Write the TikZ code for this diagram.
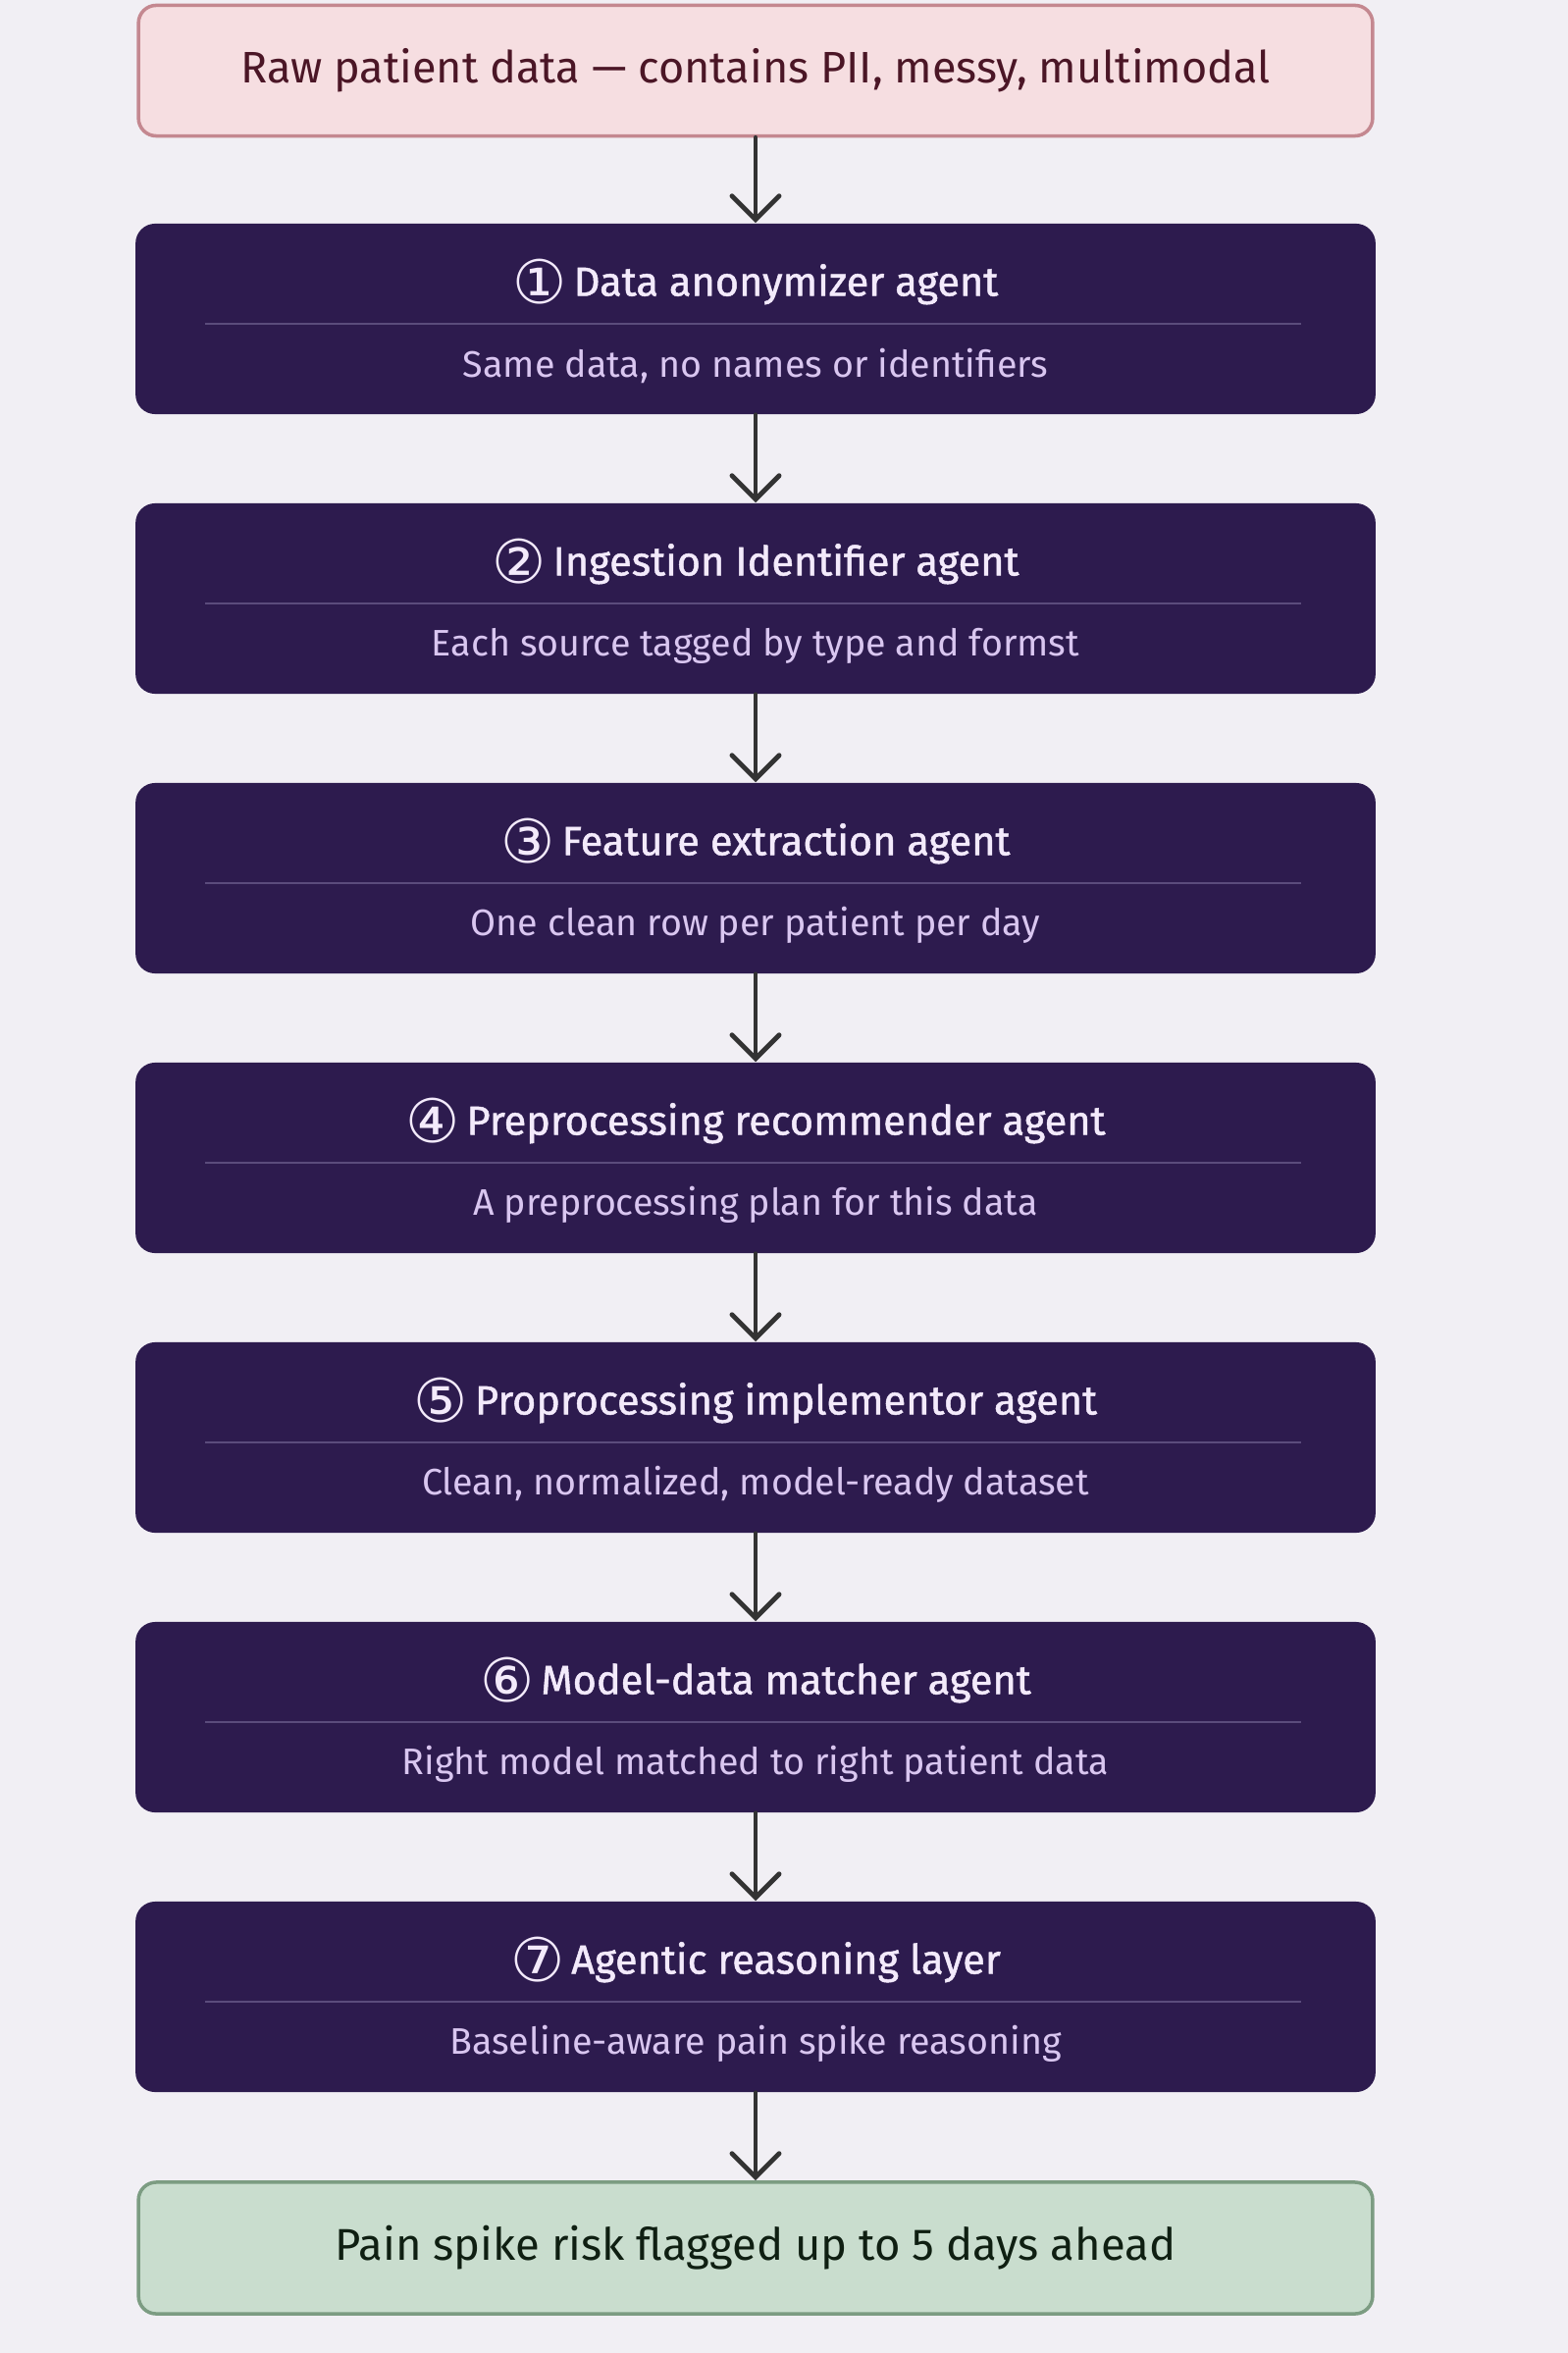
\documentclass[tikz,border=0pt]{standalone}
\usepackage{fontspec}
\setmainfont{Fira Sans}
\newfontfamily\circfont{DejaVu Sans}
\newfontfamily\titlefont[FakeBold=1.2]{Fira Sans}
\usetikzlibrary{arrows.meta,positioning,calc}

\definecolor{bgpaper}{HTML}{F1EFF4}
\definecolor{agentfill}{HTML}{2D1B4E}
\definecolor{agenttext}{HTML}{F3EAFB}
\definecolor{subtext}{HTML}{D9C6F0}
\definecolor{sepcolor}{HTML}{5B4C7C}
\definecolor{rawfill}{HTML}{F6DEE1}
\definecolor{rawdraw}{HTML}{C48890}
\definecolor{rawtext}{HTML}{4B1626}
\definecolor{outfill}{HTML}{C9DDCE}
\definecolor{outdraw}{HTML}{7C9C82}
\definecolor{outtext}{HTML}{0F1F12}
\definecolor{arrowgray}{HTML}{333333}

\begin{document}
\begin{tikzpicture}[x=0.01cm,y=-0.01cm,
    rawbox/.style={fill=rawfill, draw=rawdraw, line width=1pt, rounded corners=0.18cm,
      minimum width=12.57cm, minimum height=1.33cm, text=rawtext,
      font=\fontsize{12.8pt}{15pt}\selectfont},
    outbox/.style={fill=outfill, draw=outdraw, line width=1pt, rounded corners=0.18cm,
      minimum width=12.57cm, minimum height=1.34cm, text=outtext,
      font=\fontsize{12.9pt}{15pt}\selectfont},
    agentbox/.style={fill=agentfill, rounded corners=0.2cm,
      minimum width=12.63cm, minimum height=1.94cm},
    agenttitle/.style={text=agenttext, font=\titlefont\fontsize{11.8pt}{14pt}\selectfont},
    agentsub/.style={text=subtext, font=\fontsize{10.7pt}{12pt}\selectfont},
    sepline/.style={draw=sepcolor, line width=0.8pt},
    flowarrow/.style={draw=arrowgray, line width=1.4pt, line cap=round,
      -{Straight Barb[length=0.24cm, width=0.48cm, line cap=round]}}]

  \fill[bgpaper] (0,0) rectangle (1598,2398);

  \node[rawbox] (raw) at (770,72) {Raw patient data — contains PII, messy, multimodal};

  \foreach \i/\y/\num/\title/\sub in {
      1/325/①/{Data anonymizer agent}/{Same data, no names or identifiers},
      2/610/②/{Ingestion Identifier agent}/{Each source tagged by type and formst},
      3/895/③/{Feature extraction agent}/{One clean row per patient per day},
      4/1180/④/{Preprocessing recommender agent}/{A preprocessing plan for this data},
      5/1465/⑤/{Proprocessing implementor agent}/{Clean, normalized, model-ready dataset},
      6/1750/⑥/{Model-data matcher agent}/{Right model matched to right patient data},
      7/2035/⑦/{Agentic reasoning layer}/{Baseline-aware pain spike reasoning}} {
    \node[agentbox] (ag\i) at (770,\y) {};
    \node[agenttitle] (title\i) at (770,\y-38)
      {\raisebox{-0.35ex}{\circfont\fontsize{17.5pt}{18pt}\selectfont\num}\,\title};
    \node[agentsub] (sub\i) at (770,\y+48) {\sub};
    \draw[sepline] (209,\y+5) -- (1326,\y+5);
  }

  \node[outbox] (out) at (770,2291) {Pain spike risk flagged up to 5 days ahead};

  % flow
  \draw[flowarrow] (raw) -- (ag1);
  \foreach \i/\j in {1/2,2/3,3/4,4/5,5/6,6/7}
    \draw[flowarrow] (ag\i) -- (ag\j);
  \draw[flowarrow] (ag7) -- (out);
\end{tikzpicture}
\end{document}
